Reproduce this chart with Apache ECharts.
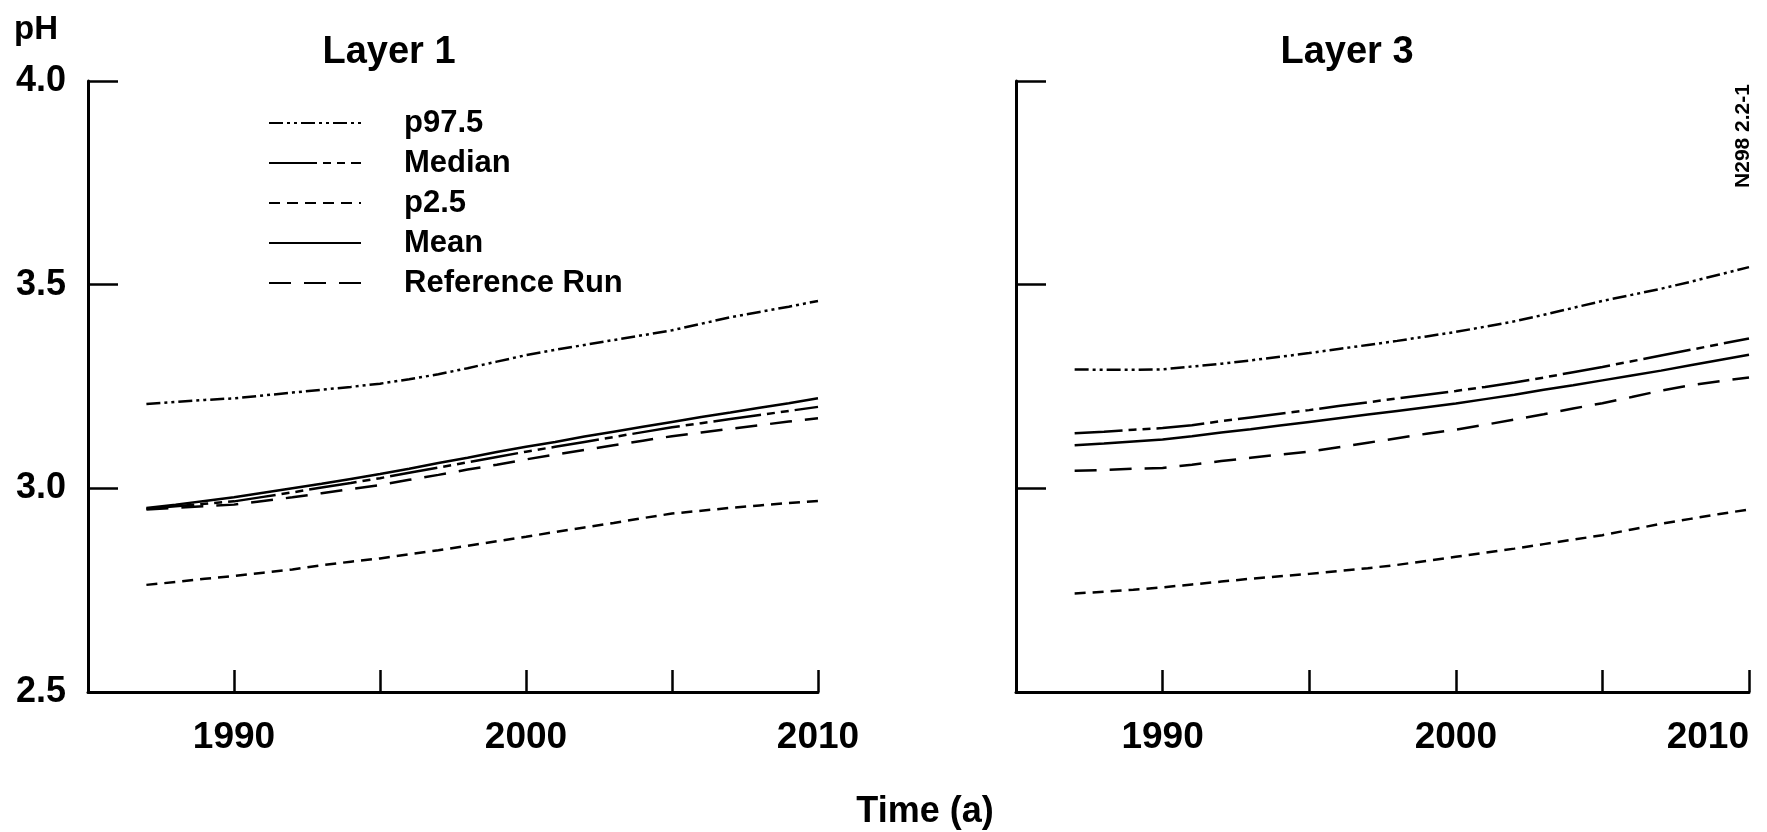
<!DOCTYPE html>
<html>
<head>
<meta charset="utf-8">
<script src="https://cdn.jsdelivr.net/npm/echarts@6/dist/echarts.min.js"></script>
<style>
html,body{margin:0;padding:0;background:#fff;}
#chart{width:1767px;height:832px;}
</style>
</head>
<body>
<div id="chart"></div>
<script>
// ---- data ----
const years = [1987,1988,1989,1990,1991,1992,1993,1994,1995,1996,1997,1998,1999,2000,2001,2002,2003,2004,2005,2006,2007,2008,2009,2010];
const seriesNames = ['p97.5','Median','p2.5','Mean','Reference Run'];
const xTickLabels = [1990, 2000, 2010];
const yTickLabels = [2.5, 3.0, 3.5, 4.0];
const panelTitles = ['Layer 1', 'Layer 3'];

// Layer 1
const L1_p975  = [3.207,3.212,3.217,3.221,3.228,3.235,3.242,3.249,3.257,3.268,3.280,3.295,3.311,3.327,3.340,3.352,3.364,3.376,3.388,3.404,3.420,3.433,3.446,3.460];
const L1_median= [2.950,2.956,2.962,2.968,2.979,2.990,3.002,3.013,3.025,3.038,3.051,3.064,3.077,3.090,3.102,3.114,3.126,3.138,3.150,3.160,3.170,3.180,3.190,3.200];
const L1_p25   = [2.763,2.770,2.778,2.785,2.793,2.801,2.811,2.820,2.828,2.838,2.848,2.859,2.870,2.881,2.893,2.904,2.915,2.927,2.938,2.945,2.952,2.958,2.964,2.969];
const L1_mean  = [2.952,2.960,2.969,2.978,2.989,3.000,3.011,3.023,3.035,3.048,3.062,3.075,3.089,3.102,3.114,3.127,3.139,3.151,3.163,3.175,3.186,3.198,3.209,3.221];
const L1_ref   = [2.948,2.952,2.956,2.960,2.969,2.978,2.988,2.998,3.008,3.021,3.033,3.046,3.058,3.071,3.083,3.094,3.106,3.117,3.128,3.137,3.146,3.155,3.164,3.172];

// Layer 3
const L3_p975  = [3.292,3.291,3.291,3.292,3.299,3.306,3.314,3.323,3.332,3.342,3.352,3.362,3.373,3.384,3.397,3.410,3.426,3.443,3.460,3.475,3.490,3.507,3.525,3.543];
const L3_median= [3.135,3.139,3.144,3.148,3.155,3.165,3.174,3.183,3.192,3.202,3.211,3.221,3.230,3.239,3.249,3.260,3.272,3.285,3.298,3.312,3.326,3.340,3.354,3.368];
const L3_p25   = [2.742,2.746,2.751,2.757,2.764,2.771,2.778,2.784,2.790,2.797,2.804,2.812,2.822,2.832,2.842,2.852,2.863,2.874,2.885,2.899,2.913,2.925,2.937,2.948];
const L3_mean  = [3.106,3.110,3.115,3.120,3.128,3.137,3.145,3.154,3.163,3.172,3.181,3.190,3.199,3.208,3.219,3.230,3.242,3.253,3.265,3.277,3.289,3.302,3.315,3.328];
const L3_ref   = [3.043,3.045,3.048,3.050,3.058,3.067,3.075,3.083,3.090,3.101,3.112,3.123,3.134,3.144,3.156,3.169,3.182,3.196,3.209,3.224,3.240,3.253,3.263,3.272];

// ---- styles ----
const FONT = '"Liberation Sans", Arial, Helvetica, sans-serif';

const dashes = {
  'p97.5': [14,4,3,4,3,4],
  'Median': [48,6,8,6,8,6],
  'p2.5': [11,7],
  'Mean': 'solid',
  'Reference Run': [22,13]
};

const L1 = [L1_p975, L1_median, L1_p25, L1_mean, L1_ref];
const L3 = [L3_p975, L3_median, L3_p25, L3_mean, L3_ref];

function pairs(arr){ return years.map((y,i)=>[y, arr[i]]); }

const series = [];
[L1, L3].forEach((panel, gi) => {
  panel.forEach((arr, si) => {
    series.push({
      name: seriesNames[si],
      type: 'line',
      xAxisIndex: gi, yAxisIndex: gi,
      data: pairs(arr),
      showSymbol: false, symbol: 'none', symbolSize: 0,
      silent: true,
      lineStyle: { color: '#000', width: 2.5, type: dashes[seriesNames[si]] },
      itemStyle: { color: '#000' },
      z: 3
    });
  });
});

const axisLine = { show: true, onZero: false, lineStyle: { color: '#000', width: 3 } };

function xAxis(gi){
  return {
    gridIndex: gi, type: 'value', min: 1985, max: 2010, interval: 5,
    axisLine: axisLine,
    axisTick: { show: true, inside: true, length: 22, lineStyle: { color: '#000', width: 2.5 } },
    axisLabel: {
      show: true, margin: 27, color: '#000', fontFamily: FONT, fontWeight: 'bold', fontSize: 37,
      hideOverlap: false,
      alignMaxLabel: gi === 1 ? 'right' : 'center',
      formatter: v => xTickLabels.indexOf(v) >= 0 ? String(v) : ''
    },
    splitLine: { show: false }
  };
}
function yAxis(gi){
  return {
    gridIndex: gi, type: 'value', min: 2.5, max: 4.0, interval: 0.5,
    axisLine: axisLine,
    axisTick: { show: true, inside: true, length: 30, lineStyle: { color: '#000', width: 2.5 } },
    axisLabel: {
      show: gi === 0, margin: 22, color: '#000', fontFamily: FONT, fontWeight: 'bold', fontSize: 36,
      formatter: v => yTickLabels.indexOf(v) >= 0 ? v.toFixed(1) : ''
    },
    splitLine: { show: false }
  };
}

const chart = echarts.init(document.getElementById('chart'), null, { renderer: 'canvas' });
chart.setOption({
  backgroundColor: '#fff',
  animation: false,
  grid: [
    { left: 88, right: 949, top: 81, bottom: 140, containLabel: false, outerBoundsMode: 'none' },
    { left: 1016, right: 18, top: 81, bottom: 140, containLabel: false, outerBoundsMode: 'none' }
  ],
  xAxis: [xAxis(0), xAxis(1)],
  yAxis: [yAxis(0), yAxis(1)],
  legend: {
    data: seriesNames,
    orient: 'vertical',
    left: 263, top: 102,
    itemWidth: 92, itemHeight: 14, itemGap: 8,
    selectedMode: false,
    itemStyle: { opacity: 0, borderWidth: 0 },
    textStyle: { color: '#000', fontFamily: FONT, fontWeight: 'bold', fontSize: 31, lineHeight: 32, padding: [0,0,0,38] }
  },
  graphic: [
    { type: 'text', left: 14, top: 13, style: { text: 'pH', fill: '#000', font: 'bold 33px ' + FONT } },
    { type: 'text', x: 389, y: 53, style: { text: panelTitles[0], fill: '#000', font: 'bold 38px ' + FONT, align: 'center', verticalAlign: 'middle' } },
    { type: 'text', x: 1347, y: 53, style: { text: panelTitles[1], fill: '#000', font: 'bold 38px ' + FONT, align: 'center', verticalAlign: 'middle' } },
    { type: 'text', x: 925, y: 812, style: { text: 'Time (a)', fill: '#000', font: 'bold 36px ' + FONT, align: 'center', verticalAlign: 'middle' } },
    { type: 'text', x: 1743, y: 136, rotation: Math.PI / 2, style: { text: 'N298 2.2-1', fill: '#000', font: 'bold 21px ' + FONT, align: 'center', verticalAlign: 'middle' } }
  ],
  series: series
});
</script>
</body>
</html>
